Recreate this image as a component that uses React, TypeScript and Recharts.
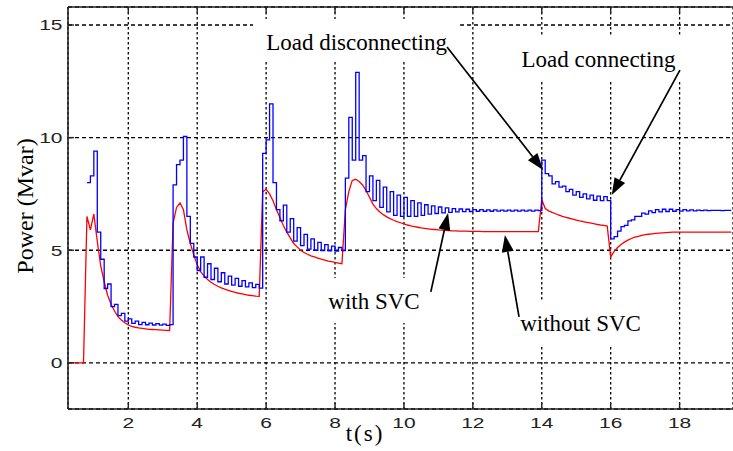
import React from "react";
import {
  LineChart,
  Line,
  XAxis,
  YAxis,
  CartesianGrid,
  ReferenceLine,
  ReferenceArea,
} from "recharts";

// samples every 0.1 s starting at 0.3 s
const T_START = 0.3;
const T_STEP = 0.1;

// reactive power with SVC (Mvar)
const withSvc: (number | null)[] = [
  null, null, null, null, null, 8.0, 8.3,
  9.4, 5.8, 4.6, 3.3, 3.5, 2.5, 2.6, 2.1, 2.2, 1.85,
  1.95, 1.75, 1.85, 1.7, 1.8, 1.69, 1.76, 1.68, 1.74, 1.67,
  1.72, 1.66, 1.7, 7.9, 8.8, 9.0, 10.05, 6.5, 5.3, 4.7,
  4.1, 4.7, 3.8, 4.4, 3.7, 4.2, 3.6, 4.0, 3.5, 3.85,
  3.45, 3.75, 3.4, 3.65, 3.37, 3.55, 3.34, 3.48, 3.32, 9.3,
  9.9, 11.5, 8.0, 6.8, 6.3, 7.0, 5.8, 6.4, 5.4, 6.0,
  5.2, 5.7, 5.05, 5.5, 5.0, 5.35, 4.98, 5.25, 4.97, 5.18,
  4.96, 5.12, 4.98, 8.2, 10.9, 9.0, 12.9, 9.0, 9.2, 7.6,
  8.3, 7.2, 8.1, 6.9, 7.8, 6.7, 7.6, 6.55, 7.45, 6.5,
  7.35, 6.5, 7.2, 6.5, 7.1, 6.55, 7.02, 6.6, 6.97, 6.63,
  6.92, 6.66, 6.88, 6.68, 6.85, 6.7, 6.83, 6.71, 6.82, 6.72,
  6.8, 6.73, 6.8, 6.73, 6.79, 6.73, 6.79, 6.74, 6.78, 6.74,
  6.78, 6.74, 6.78, 6.74, 6.78, 6.74, 6.78, 6.74, 6.78, 6.76,
  9.0, 8.4, 8.3, 7.95, 8.05, 7.8, 7.85, 7.6, 7.7, 7.45,
  7.6, 7.35, 7.5, 7.28, 7.45, 7.22, 7.4, 7.2, 7.38, 7.2,
  5.5, 5.6, 5.85, 6.05, 6.1, 6.3, 6.35, 6.5, 6.5, 6.65,
  6.6, 6.75, 6.67, 6.8, 6.7, 6.82, 6.72, 6.82, 6.73, 6.8,
  6.74, 6.8, 6.75, 6.79, 6.75, 6.78, 6.76, 6.78, 6.76, 6.77,
  6.77, 6.77, 6.76, 6.77, 6.77, 6.77,
];

// reactive power without SVC (Mvar)
const withoutSvc: number[] = [
  0, 0, 0, 0, 0, 6.5, 5.9,
  6.6, 5.4, 4.3, 3.6, 3.0, 2.6, 2.3, 2.05, 1.9, 1.78,
  1.68, 1.62, 1.58, 1.55, 1.53, 1.51, 1.49, 1.48, 1.47, 1.46,
  1.45, 1.44, 1.43, 6.2, 6.9, 7.1, 6.8, 5.9, 5.3, 4.8,
  4.35, 4.05, 3.85, 3.7, 3.58, 3.48, 3.4, 3.33, 3.27, 3.22,
  3.17, 3.13, 3.09, 3.06, 3.03, 3.0, 2.98, 2.96, 2.95, 7.6,
  7.7, 7.5, 7.2, 6.8, 6.45, 6.1, 5.8, 5.55, 5.3, 5.15,
  5.0, 4.9, 4.82, 4.75, 4.7, 4.65, 4.6, 4.56, 4.52, 4.49,
  4.46, 4.43, 4.4, 6.8, 7.6, 8.1, 8.15, 8.05, 7.9, 7.65,
  7.35, 7.05, 6.85, 6.7, 6.58, 6.48, 6.4, 6.33, 6.27, 6.22,
  6.17, 6.12, 6.08, 6.05, 6.02, 5.99, 5.97, 5.95, 5.93, 5.92,
  5.9, 5.89, 5.88, 5.87, 5.86, 5.86, 5.85, 5.85, 5.85, 5.84,
  5.84, 5.84, 5.84, 5.83, 5.83, 5.83, 5.83, 5.83, 5.83, 5.83,
  5.83, 5.83, 5.83, 5.83, 5.83, 5.83, 5.83, 5.83, 5.83, 5.83,
  7.25, 6.85, 6.75, 6.68, 6.62, 6.56, 6.5, 6.46, 6.42, 6.38,
  6.34, 6.3, 6.27, 6.24, 6.21, 6.18, 6.15, 6.12, 6.1, 6.07,
  4.7, 4.95, 5.12, 5.25, 5.36, 5.45, 5.52, 5.58, 5.62, 5.66,
  5.69, 5.71, 5.73, 5.75, 5.76, 5.77, 5.78, 5.79, 5.8, 5.8,
  5.8, 5.8, 5.8, 5.8, 5.8, 5.8, 5.8, 5.8, 5.8, 5.8,
  5.8, 5.8, 5.8, 5.8, 5.8, 5.8,
];

const xTicks = [2, 4, 6, 8, 10, 12, 14, 16, 18];
const yTicks = [0, 5, 10, 15];
const X_DOMAIN: [number, number] = [0.25, 19.55];
const Y_DOMAIN: [number, number] = [-2.05, 15.8];

// text boxes (white background hides the grid behind them)
const notes = [
  { text: "Load disconnecting", x1: 5.62, x2: 11.63, y1: 13.36, y2: 15.27 },
  { text: "Load connecting", x1: 13.02, x2: 18.27, y1: 12.56, y2: 14.51 },
  { text: "with SVC", x1: 7.45, x2: 10.81, y1: 1.77, y2: 3.77 },
  { text: "without SVC", x1: 12.99, x2: 17.26, y1: 0.79, y2: 2.79 },
];

// arrows: tail -> head, in data units
const arrows = [
  { x1: 11.25, y1: 14.02, x2: 14.04, y2: 8.56 },
  { x1: 18.01, y1: 13.0, x2: 16.03, y2: 7.45 },
  { x1: 10.78, y1: 3.15, x2: 11.28, y2: 6.65 },
  { x1: 13.34, y1: 2.04, x2: 12.93, y2: 5.68 },
];

const rows = withSvc.map((v, i) => ({
  t: Number((T_START + i * T_STEP).toFixed(1)),
  withSvc: v,
  withoutSvc: withoutSvc[i],
}));

const PLOT_TOP = 7;
const AXIS_COLOR = "#222";
const TICK_FONT = "'Liberation Sans', Arial, sans-serif";
const SERIF = "'Liberation Serif', 'Times New Roman', serif";

const XTick = ({ x, y, payload }: any) => (
  <g>
    <line x1={x} y1={y} x2={x} y2={y - 6} stroke={AXIS_COLOR} strokeWidth={1.4} />
    <line x1={x} y1={PLOT_TOP} x2={x} y2={PLOT_TOP + 6} stroke={AXIS_COLOR} strokeWidth={1.4} />
    <text
      transform={`translate(${x},${y + 19.3}) scale(1.4,1)`}
      textAnchor="middle"
      fontFamily={TICK_FONT}
      fontSize={15}
      fill="#222"
    >
      {payload.value}
    </text>
  </g>
);

const YTick = ({ x, y, payload }: any) => (
  <g>
    <line x1={x} y1={y} x2={x + 6} y2={y} stroke={AXIS_COLOR} strokeWidth={1.4} />
    <text
      transform={`translate(${x - 5.5},${y + 5.4}) scale(1.4,1)`}
      textAnchor="end"
      fontFamily={TICK_FONT}
      fontSize={15}
      fill="#222"
    >
      {payload.value}
    </text>
  </g>
);

const Arrow = (p: any) => {
  const { x1, y1, x2, y2 } = p;
  const ang = Math.atan2(y2 - y1, x2 - x1);
  const len = 17;
  const half = 6;
  const bx = x2 - len * Math.cos(ang);
  const by = y2 - len * Math.sin(ang);
  const ox = -Math.sin(ang) * half;
  const oy = Math.cos(ang) * half;
  return (
    <g>
      <line x1={x1} y1={y1} x2={bx} y2={by} stroke="#000" strokeWidth={1.7} />
      <polygon
        points={`${x2},${y2} ${bx + ox},${by + oy} ${bx - ox},${by - oy}`}
        fill="#000"
      />
    </g>
  );
};

const noteBox = (text: string) => (p: any) => (
  <g>
    <rect x={p.x} y={p.y} width={p.width} height={p.height} fill="#fff" />
    <text
      x={p.x + p.width / 2}
      y={p.y + 31}
      textAnchor="middle"
      fontFamily={SERIF}
      fontSize={23}
      fill="#000"
    >
      {text}
    </text>
  </g>
);

const XTitle = (p: any) => {
  const vb = p.viewBox;
  return (
    <text
      x={vb.x + 297}
      y={vb.y + 32}
      textAnchor="middle"
      fontFamily={SERIF}
      fontSize={23}
      letterSpacing={2}
      fill="#000"
    >
      t(s)
    </text>
  );
};

const YTitle = (p: any) => {
  const vb = p.viewBox;
  return (
    <text
      transform={`translate(${vb.x + 33},${vb.y + 199}) rotate(-90)`}
      textAnchor="middle"
      fontFamily={SERIF}
      fontSize={24}
      fill="#000"
    >
      Power (Mvar)
    </text>
  );
};

export default function App() {
  return (
    <div style={{ position: "absolute", left: 0, top: 0, background: "#fff" }}>
      <LineChart
        width={733}
        height={451}
        data={rows}
        margin={{ top: PLOT_TOP, right: 0, bottom: 0, left: 0 }}
      >
        <CartesianGrid horizontal={false} stroke="#000" strokeWidth={1.3} strokeDasharray="2.5 2.5" />
        <CartesianGrid vertical={false} stroke="#000" strokeWidth={1.3} strokeDasharray="4 3" />
        <XAxis
          dataKey="t"
          type="number"
          domain={X_DOMAIN}
          allowDataOverflow
          ticks={xTicks}
          height={42}
          tickSize={0}
          tickMargin={0}
          tickLine={false}
          tick={<XTick />}
          axisLine={{ stroke: AXIS_COLOR, strokeWidth: 1.6 }}
          label={<XTitle />}
        />
        <YAxis
          type="number"
          domain={Y_DOMAIN}
          allowDataOverflow
          ticks={yTicks}
          width={68}
          tickSize={0}
          tickMargin={0}
          tickLine={false}
          tick={<YTick />}
          axisLine={{ stroke: AXIS_COLOR, strokeWidth: 1.6 }}
          label={<YTitle />}
        />
        <ReferenceLine y={Y_DOMAIN[1]} stroke={AXIS_COLOR} strokeWidth={1.6} ifOverflow="visible" />
        {notes.map((n) => (
          <ReferenceArea
            key={n.text}
            x1={n.x1}
            x2={n.x2}
            y1={n.y1}
            y2={n.y2}
            ifOverflow="visible"
            shape={noteBox(n.text)}
          />
        ))}
        <Line
          type="linear"
          dataKey="withoutSvc"
          stroke="#ff0000"
          strokeWidth={1.3}
          dot={false}
          isAnimationActive={false}
        />
        <Line
          type="stepAfter"
          dataKey="withSvc"
          stroke="#0000ff"
          strokeWidth={1.3}
          dot={false}
          isAnimationActive={false}
        />
        {arrows.map((a, i) => (
          <ReferenceLine
            key={i}
            segment={[
              { x: a.x1, y: a.y1 },
              { x: a.x2, y: a.y2 },
            ]}
            ifOverflow="visible"
            shape={Arrow}
          />
        ))}
      </LineChart>
    </div>
  );
}
